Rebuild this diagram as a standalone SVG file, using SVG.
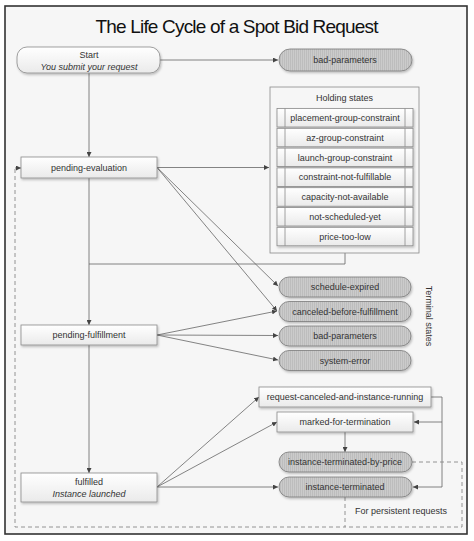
<svg xmlns="http://www.w3.org/2000/svg" width="474" height="541" viewBox="0 0 474 541">
<defs>
<linearGradient id="gBox" x1="0" y1="0" x2="0" y2="1">
<stop offset="0" stop-color="#ffffff"/><stop offset="1" stop-color="#eaeaea"/>
</linearGradient>
<pattern id="hatch" width="2" height="4" patternUnits="userSpaceOnUse">
<rect width="2" height="4" fill="#cbcbcb"/><rect width="1" height="4" fill="#bdbdbd"/>
</pattern>
<filter id="sh" x="-10%" y="-20%" width="120%" height="160%">
<feDropShadow dx="1" dy="1.5" stdDeviation="1" flood-color="#000" flood-opacity="0.25"/>
</filter>
<marker id="ah" viewBox="0 0 6 6" refX="6" refY="3" markerWidth="5" markerHeight="5" orient="auto" markerUnits="userSpaceOnUse">
<path d="M0,0 L6,3 L0,6 z" fill="#444"/>
</marker>
</defs>
<style>
text{font-family:"Liberation Sans",Arial,sans-serif;font-size:9px;fill:#333;text-anchor:middle}
.it{font-style:italic}
.box{fill:url(#gBox);stroke:#8a8a8a;stroke-width:0.8;filter:url(#sh)}
.term{fill:url(#hatch);stroke:#7a7a7a;stroke-width:0.8;filter:url(#sh)}
.con{fill:none;stroke:#666;stroke-width:0.8}
.arr{marker-end:url(#ah)}
.dash{fill:none;stroke:#888;stroke-width:0.9;stroke-dasharray:4,3}
.sep{stroke:#8a8a8a;stroke-width:0.8}
</style>
<rect x="0" y="0" width="474" height="541" fill="#ffffff"/>
<rect x="5" y="6" width="462" height="528" fill="#f6f6f6" stroke="#333" stroke-width="1.6"/>
<text x="237" y="33" style="font-size:19px;fill:#111" textLength="283">The Life Cycle of a Spot Bid Request</text>

<g id="connectors">
<path class="con arr" d="M160,60 L278,60"/>
<path class="con arr" d="M89,73 L89,157"/>
<path class="con arr" d="M157,167.5 L269,167.5"/>
<path class="con" d="M345,253 L345,264 L89,264"/>
<path class="con arr" d="M157,167.5 L278,286"/>
<path class="con arr" d="M157,167.5 L277,311"/>
<path class="con arr" d="M89,178 L89,325"/>
<path class="con arr" d="M157,335 L277,311"/>
<path class="con arr" d="M157,335 L278,335.5"/>
<path class="con arr" d="M157,335 L278,360"/>
<path class="con arr" d="M89,345 L89,473"/>
<path class="con arr" d="M157,487 L259,397"/>
<path class="con arr" d="M157,487 L277,422"/>
<path class="con arr" d="M157,487 L278,487"/>
<path class="con arr" d="M345,432 L345,452"/>
<path class="con arr" d="M431,397 L442,397 L442,487 L413,487"/>
<path class="con arr" d="M442,422 L414,422"/>
<path class="dash" d="M345,497 L345,527 L15,527 L15,168"/>
<path class="con arr" d="M15,168 L21,168"/>
<path class="dash" d="M412,462 L462,462 L462,527 L345,527"/>
</g>

<g id="start">
<rect class="box" x="17" y="47" width="143" height="26" rx="10"/>
<text x="89" y="58">Start</text>
<text class="it" x="89" y="70">You submit your request</text>
</g>
<g id="bad-parameters-1">
<rect class="term" x="279" y="49" width="133" height="22" rx="11"/>
<text x="345" y="63">bad-parameters</text>
</g>

<g id="holding-states">
<rect x="270" y="87" width="149" height="166" fill="#f6f6f6" stroke="#8a8a8a" stroke-width="0.8"/>
<text x="344.5" y="101">Holding states</text>
<g id="placement-group-constraint"><rect class="box" x="277" y="108.5" width="136" height="18.5"/><line class="sep" x1="285" y1="108.5" x2="285" y2="127"/><line class="sep" x1="405" y1="108.5" x2="405" y2="127"/><text x="345" y="121">placement-group-constraint</text></g>
<g id="az-group-constraint"><rect class="box" x="277" y="128.3" width="136" height="18.5"/><line class="sep" x1="285" y1="128.3" x2="285" y2="146.8"/><line class="sep" x1="405" y1="128.3" x2="405" y2="146.8"/><text x="345" y="140.8">az-group-constraint</text></g>
<g id="launch-group-constraint"><rect class="box" x="277" y="148.1" width="136" height="18.5"/><line class="sep" x1="285" y1="148.1" x2="285" y2="166.6"/><line class="sep" x1="405" y1="148.1" x2="405" y2="166.6"/><text x="345" y="160.6">launch-group-constraint</text></g>
<g id="constraint-not-fulfillable"><rect class="box" x="277" y="167.9" width="136" height="18.5"/><line class="sep" x1="285" y1="167.9" x2="285" y2="186.4"/><line class="sep" x1="405" y1="167.9" x2="405" y2="186.4"/><text x="345" y="180.4">constraint-not-fulfillable</text></g>
<g id="capacity-not-available"><rect class="box" x="277" y="187.7" width="136" height="18.5"/><line class="sep" x1="285" y1="187.7" x2="285" y2="206.2"/><line class="sep" x1="405" y1="187.7" x2="405" y2="206.2"/><text x="345" y="200.2">capacity-not-available</text></g>
<g id="not-scheduled-yet"><rect class="box" x="277" y="207.5" width="136" height="18.5"/><line class="sep" x1="285" y1="207.5" x2="285" y2="226"/><line class="sep" x1="405" y1="207.5" x2="405" y2="226"/><text x="345" y="220">not-scheduled-yet</text></g>
<g id="price-too-low"><rect class="box" x="277" y="227.3" width="136" height="18.5"/><line class="sep" x1="285" y1="227.3" x2="285" y2="245.8"/><line class="sep" x1="405" y1="227.3" x2="405" y2="245.8"/><text x="345" y="239.8">price-too-low</text></g>
</g>

<g id="pending-evaluation">
<rect class="box" x="21" y="157" width="136" height="21"/>
<text x="89" y="170.5">pending-evaluation</text>
</g>
<g id="pending-fulfillment">
<rect class="box" x="21" y="325" width="136" height="20"/>
<text x="89" y="338">pending-fulfillment</text>
</g>
<g id="fulfilled">
<rect class="box" x="21" y="473" width="136" height="29"/>
<text x="89" y="485">fulfilled</text>
<text class="it" x="89" y="497">Instance launched</text>
</g>

<g id="schedule-expired"><rect class="term" x="279" y="277" width="132" height="20" rx="10"/><text x="345" y="290">schedule-expired</text></g>
<g id="canceled-before-fulfillment"><rect class="term" x="279" y="301.5" width="132" height="20" rx="10"/><text x="345" y="314.5">canceled-before-fulfillment</text></g>
<g id="bad-parameters-2"><rect class="term" x="279" y="326" width="132" height="20" rx="10"/><text x="345" y="339">bad-parameters</text></g>
<g id="system-error"><rect class="term" x="279" y="350.5" width="132" height="20" rx="10"/><text x="345" y="363.5">system-error</text></g>
<text x="426" y="316" transform="rotate(90 426 316)" style="font-size:9px">Terminal states</text>

<g id="request-canceled-and-instance-running"><rect class="box" x="259" y="387" width="172" height="20"/><text x="345" y="400">request-canceled-and-instance-running</text></g>
<g id="marked-for-termination"><rect class="box" x="277" y="412" width="136" height="20"/><text x="345" y="425">marked-for-termination</text></g>
<g id="instance-terminated-by-price"><rect class="term" x="279" y="452" width="133" height="20" rx="10"/><text x="345" y="465">instance-terminated-by-price</text></g>
<g id="instance-terminated"><rect class="term" x="279" y="477" width="133" height="20" rx="10"/><text x="345" y="490">instance-terminated</text></g>
<text x="401" y="514">For persistent requests</text>
</svg>
